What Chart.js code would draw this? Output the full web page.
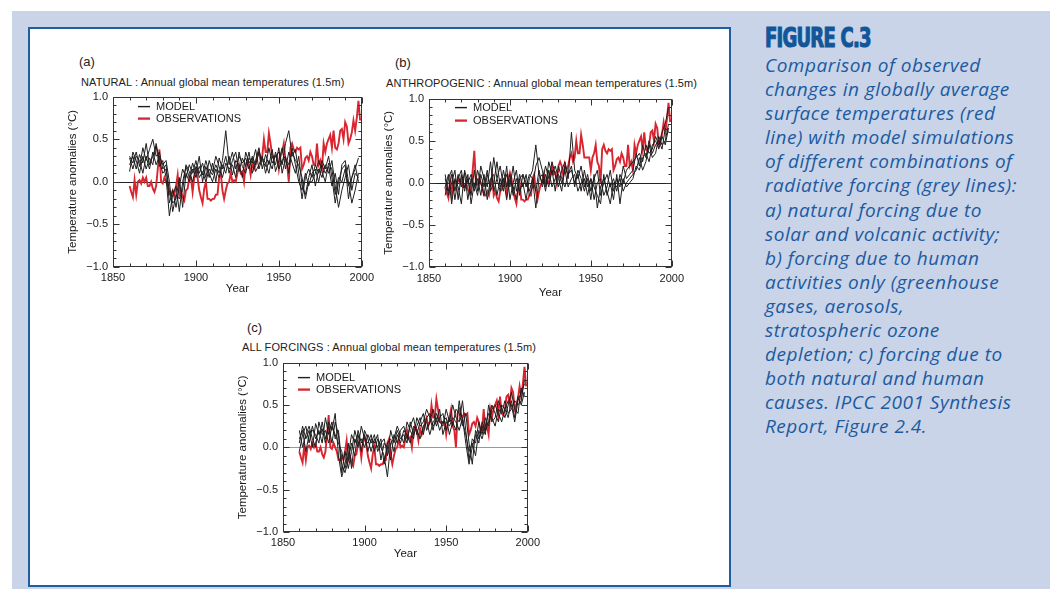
<!DOCTYPE html>
<html>
<head>
<meta charset="utf-8">
<script src="https://cdn.jsdelivr.net/npm/chart.js@4.4.1/dist/chart.umd.min.js"></script>
<style>
body{margin:0;width:1050px;height:590px;background:#fff;position:relative;overflow:hidden;font-family:"Liberation Sans",Arial,sans-serif;color:#222}
#panel{position:absolute;left:12px;top:11px;width:1038px;height:578px;background:#c9d4e8}
#box{position:absolute;left:28px;top:27px;width:699px;height:556px;border:2px solid #1f5fa0;background:#fff}
canvas{position:absolute}
.tag{position:absolute;font-size:13px;line-height:14px}
.sub{position:absolute;font-size:11px;line-height:12px;white-space:nowrap;letter-spacing:0.1px}
#fig{position:absolute;left:765px;top:24px;font-family:"DejaVu Sans Condensed","DejaVu Sans",sans-serif;font-weight:bold;font-size:26px;line-height:28px;color:#12569a;-webkit-text-stroke:1.1px #12569a;transform:scaleX(0.77);transform-origin:left top;letter-spacing:-1px;white-space:nowrap}
#cap{position:absolute;left:765px;top:53px;font-family:"Open Sans",Lato,sans-serif;font-style:italic;font-size:19px;line-height:24.1px;letter-spacing:0.5px;color:#1c5aa0;white-space:nowrap}
</style>
</head>
<body>
<div id="panel"></div>
<div id="box"></div>

<div class="tag" style="left:79px;top:55px">(a)</div>
<div class="sub" style="left:81px;top:76px">NATURAL : Annual global mean temperatures (1.5m)</div>
<div class="tag" style="left:395px;top:56px">(b)</div>
<div class="sub" style="left:386px;top:77px">ANTHROPOGENIC : Annual global mean temperatures (1.5m)</div>
<div class="tag" style="left:247px;top:321px">(c)</div>
<div class="sub" style="left:242px;top:341px">ALL FORCINGS : Annual global mean temperatures (1.5m)</div>

<canvas id="chartA" width="315" height="211" style="left:63px;top:85px"></canvas>
<canvas id="chartB" width="310" height="213" style="left:379px;top:87px"></canvas>
<canvas id="chartC" width="311" height="210" style="left:233px;top:351px"></canvas>

<div id="fig">FIGURE C.3</div>
<div id="cap">Comparison of observed<br>changes in globally average<br>surface temperatures (red<br>line) with model simulations<br>of different combinations of<br>radiative forcing (grey lines):<br>a) natural forcing due to<br>solar and volcanic activity;<br>b) forcing due to human<br>activities only (greenhouse<br>gases, aerosols,<br>stratospheric ozone<br>depletion; c) forcing due to<br>both natural and human<br>causes. IPCC 2001 Synthesis<br>Report, Figure 2.4.</div>

<script>
// tick labels
const xTickValues = [1850, 1900, 1950, 2000]
const xTickLabels = ['1850', '1900', '1950', '2000']
const yTickValues = [-1, -0.5, 0, 0.5, 1]
const yTickLabels = ['\u22121.0', '\u22120.5', '0.0', '0.5', '1.0']

// observed anomalies, one per year 1860-1999
const obsYears = [
1860,1861,1862,1863,1864,1865,1866,1867,1868,1869,
1870,1871,1872,1873,1874,1875,1876,1877,1878,1879,
1880,1881,1882,1883,1884,1885,1886,1887,1888,1889,
1890,1891,1892,1893,1894,1895,1896,1897,1898,1899,
1900,1901,1902,1903,1904,1905,1906,1907,1908,1909,
1910,1911,1912,1913,1914,1915,1916,1917,1918,1919,
1920,1921,1922,1923,1924,1925,1926,1927,1928,1929,
1930,1931,1932,1933,1934,1935,1936,1937,1938,1939,
1940,1941,1942,1943,1944,1945,1946,1947,1948,1949,
1950,1951,1952,1953,1954,1955,1956,1957,1958,1959,
1960,1961,1962,1963,1964,1965,1966,1967,1968,1969,
1970,1971,1972,1973,1974,1975,1976,1977,1978,1979,
1980,1981,1982,1983,1984,1985,1986,1987,1988,1989,
1990,1991,1992,1993,1994,1995,1996,1997,1998,1999]

const observed = [
-0.05,-0.12,-0.18,0.02,-0.15,0.00,0.02,-0.02,0.05,0.00,
0.05,-0.05,-0.05,0.00,-0.08,-0.12,-0.05,0.15,0.38,0.00,
-0.02,0.05,0.00,-0.05,-0.15,-0.15,-0.10,-0.15,-0.05,0.08,
-0.15,-0.10,-0.18,-0.22,-0.10,-0.08,0.05,0.05,-0.12,0.05,
0.12,0.05,-0.10,-0.18,-0.25,-0.08,0.00,-0.20,-0.20,-0.22,
-0.20,-0.20,-0.15,-0.15,0.05,0.10,-0.10,-0.20,-0.10,-0.02,
0.00,0.10,0.00,0.02,0.00,0.10,0.20,0.10,0.12,0.00,
0.20,0.25,0.20,0.08,0.22,0.15,0.20,0.30,0.35,0.25,
0.30,0.50,0.35,0.35,0.57,0.45,0.30,0.30,0.30,0.30,
0.15,0.30,0.35,0.45,0.25,0.20,0.00,0.40,0.45,0.38,
0.35,0.40,0.38,0.40,0.15,0.20,0.28,0.30,0.25,0.35,
0.30,0.20,0.20,0.45,0.20,0.25,0.15,0.45,0.35,0.45,
0.50,0.55,0.40,0.60,0.40,0.38,0.45,0.60,0.62,0.50,
0.70,0.65,0.45,0.50,0.58,0.72,0.60,0.75,0.95,0.72]

// model runs, every second year 1860-1998
const modelYears = [
1860,1862,1864,1866,1868,1870,1872,1874,1876,1878,
1880,1882,1884,1886,1888,1890,1892,1894,1896,1898,
1900,1902,1904,1906,1908,1910,1912,1914,1916,1918,
1920,1922,1924,1926,1928,1930,1932,1934,1936,1938,
1940,1942,1944,1946,1948,1950,1952,1954,1956,1958,
1960,1962,1964,1966,1968,1970,1972,1974,1976,1978,
1980,1982,1984,1986,1988,1990,1992,1994,1996,1998]

// (a) natural forcing
const natural1 = [
0.30,0.22,0.35,0.18,0.40, 0.25,0.38,0.50,0.30,0.35,
0.15,0.20,-0.25,-0.10,-0.30, -0.05,0.15,0.05,0.20,0.10,
0.25,0.05,0.12,0.00,0.15, 0.08,0.20,0.10,0.25,0.60,
0.20,0.35,0.15,0.30,0.22, 0.28,0.15,0.30,0.20,0.35,
0.25,0.18,0.40,0.22,0.30, 0.35,0.20,0.45,0.60,0.30,
0.38,0.10,-0.20,0.05,0.15, 0.05,0.20,0.10,0.25,0.15,
0.30,0.05,-0.25,0.00,0.15, 0.20,-0.20,0.05,0.15,0.28]
const natural2 = [
0.20,0.30,0.15,0.32,0.22, 0.45,0.20,0.30,0.42,0.18,
0.25,0.05,-0.40,-0.15,-0.05, -0.35,0.00,0.18,0.05,0.22,
0.10,0.30,0.00,0.18,0.05, 0.22,0.00,0.28,0.15,0.30,
0.10,0.25,0.35,0.12,0.28, 0.18,0.35,0.10,0.25,0.40,
0.15,0.32,0.20,0.38,0.12, 0.25,0.40,0.15,0.35,0.22,
0.10,0.30,-0.05,-0.15,0.05, 0.20,-0.05,0.15,0.05,0.20,
0.10,0.25,-0.05,-0.30,-0.10, 0.05,0.20,-0.10,0.10,0.05]
const natural3 = [
0.12,0.35,0.25,0.10,0.30, 0.15,0.28,0.20,0.45,0.25,
0.10,0.15,-0.10,-0.25,-0.20, 0.05,-0.30,0.10,0.00,0.15,
0.05,0.18,0.08,0.25,0.10, 0.00,0.15,0.05,0.20,0.10,
0.30,0.08,0.25,0.20,0.05, 0.35,0.22,0.28,0.12,0.20,
0.30,0.10,0.25,0.15,0.35, 0.15,0.25,0.30,0.10,0.40,
0.20,0.00,-0.10,0.10,-0.05, 0.10,0.15,0.00,0.20,0.10,
0.18,-0.05,0.10,-0.15,0.20, 0.25,0.00,-0.25,-0.10,0.10]
const natural4 = [
0.28,0.15,0.30,0.25,0.10, 0.30,0.15,0.35,0.20,0.30,
0.20,0.25,0.00,-0.35,-0.15, -0.20,-0.10,0.20,0.12,0.00,
0.18,0.10,0.22,0.05,0.25, 0.12,0.30,0.18,0.05,0.22,
0.15,0.20,0.05,0.35,0.18, 0.10,0.28,0.22,0.38,0.15,
0.28,0.22,0.10,0.30,0.20, 0.40,0.10,0.28,0.20,0.35,
0.25,0.20,0.05,-0.20,0.00, 0.00,0.10,0.25,0.12,0.00,
0.22,0.15,-0.15,0.05,0.00, 0.15,-0.05,0.05,0.20,0.00]

// (b) anthropogenic forcing
const anthro1 = [
-0.15,0.05,0.15,-0.10,0.10, -0.05,0.12,-0.20,0.05,-0.10,
0.15,0.00,-0.15,0.10,-0.05, 0.30,0.05,-0.10,0.15,-0.05,
0.10,-0.15,0.05,-0.10,0.00, -0.20,0.05,0.15,0.45,0.10,
0.00,0.20,0.05,0.25,0.10, -0.05,0.15,0.25,0.05,0.60,
0.15,0.05,0.20,-0.05,0.10, -0.10,0.05,0.15,-0.15,0.00,
0.10,-0.05,0.05,-0.10,0.10, 0.00,0.15,0.20,0.25,0.30,
0.35,0.25,0.45,0.35,0.40, 0.55,0.45,0.60,0.70,0.90]
const anthro2 = [
0.10,-0.15,0.00,0.15,-0.20, 0.10,-0.05,0.05,-0.15,0.15,
-0.10,0.20,0.05,-0.05,0.25, -0.10,0.05,0.20,-0.05,0.10,
-0.05,0.20,-0.10,0.10,-0.05, 0.10,-0.15,-0.05,0.20,0.30,
0.15,-0.05,0.25,0.10,0.20, 0.05,-0.10,0.20,0.10,0.15,
0.00,0.10,-0.10,0.15,-0.05, 0.05,-0.20,0.00,0.05,-0.15,
-0.05,0.15,-0.10,0.05,-0.05, 0.20,0.05,0.10,0.15,0.35,
0.20,0.45,0.30,0.50,0.35, 0.45,0.50,0.40,0.65,0.60]
const anthro3 = [
-0.05,0.10,-0.25,0.05,-0.05, -0.25,0.15,0.00,0.10,-0.05,
0.05,-0.15,0.10,-0.20,0.05, 0.10,-0.15,0.05,-0.10,0.20,
-0.20,0.00,0.15,-0.15,0.10, -0.05,0.10,0.05,-0.10,0.15,
-0.05,0.10,-0.05,0.15,-0.10, 0.20,0.05,-0.05,0.10,0.20,
-0.05,0.15,0.05,-0.10,0.05, -0.20,0.10,-0.30,-0.05,0.05,
-0.10,-0.25,0.00,-0.05,0.05, -0.10,0.00,0.05,0.10,0.15,
0.30,0.15,0.25,0.45,0.30, 0.35,0.55,0.45,0.50,0.70]
const anthro4 = [
0.05,-0.10,0.10,-0.20,0.05, 0.15,-0.10,0.10,-0.25,0.00,
-0.15,0.10,-0.05,0.15,-0.10, 0.00,0.25,-0.05,0.05,-0.20,
0.05,-0.05,-0.20,0.05,0.10, 0.00,-0.10,0.05,-0.30,0.05,
0.10,-0.10,0.15,-0.05,0.05, 0.10,0.00,0.15,-0.05,0.05,
0.10,-0.10,0.00,0.05,-0.15, 0.05,-0.05,-0.15,-0.25,0.10,
-0.15,0.00,-0.20,0.10,-0.25, 0.05,-0.05,0.00,0.05,0.20,
0.15,0.30,0.35,0.25,0.45, 0.50,0.40,0.55,0.45,0.65]

// (c) all forcings
const all1 = [
0.05,0.25,0.10,0.20,0.00, 0.28,0.15,0.22,0.05,0.30,
0.20,0.40,-0.10,-0.35,-0.20, 0.05,-0.25,0.10,0.00,0.25,
0.10,0.05,0.15,-0.05,0.10, 0.00,-0.10,-0.35,0.05,0.10,
0.25,0.15,0.05,0.30,0.20, 0.10,0.35,0.25,0.30,0.45,
0.35,0.20,0.40,0.30,0.25, 0.45,0.30,0.50,0.35,0.30,
0.55,0.20,-0.15,0.10,0.05, 0.30,0.15,0.35,0.25,0.45,
0.50,0.40,0.30,0.45,0.55, 0.50,0.30,0.55,0.65,0.75]
const all2 = [
-0.05,0.15,0.25,0.05,0.25, 0.10,0.20,0.05,0.35,0.15,
0.30,0.10,0.20,-0.20,-0.30, -0.15,0.05,-0.10,0.20,0.05,
0.15,-0.05,0.10,0.05,0.15, -0.15,0.05,0.00,-0.15,0.15,
0.05,0.20,0.25,0.10,0.25, 0.35,0.15,0.30,0.40,0.20,
0.30,0.45,0.25,0.35,0.40, 0.20,0.35,0.25,0.45,0.40,
0.25,0.40,0.05,-0.20,0.20, 0.10,0.25,0.15,0.50,0.30,
0.35,0.55,0.45,0.35,0.50, 0.65,0.45,0.40,0.70,0.60]
const all3 = [
0.20,0.00,0.15,0.25,0.10, 0.00,0.30,0.15,0.20,0.05,
0.25,0.15,0.05,-0.05,-0.25, -0.10,0.15,0.05,0.15,-0.05,
0.20,0.10,-0.05,0.10,0.00, 0.10,-0.20,0.05,0.10,-0.05,
0.15,0.05,0.20,0.15,0.05, 0.25,0.20,0.10,0.25,0.30,
0.15,0.30,0.35,0.20,0.30, 0.35,0.15,0.30,0.20,0.55,
0.30,0.15,-0.05,0.05,-0.10, 0.20,0.10,0.25,0.40,0.35,
0.25,0.45,0.40,0.55,0.40, 0.45,0.55,0.50,0.55,0.80]
const all4 = [
0.10,0.20,-0.05,0.15,0.20, 0.15,0.05,0.30,0.10,0.25,
0.05,0.30,0.15,-0.30,-0.05, -0.25,-0.05,0.20,0.05,0.10,
0.00,0.15,0.05,0.15,-0.05, 0.05,0.10,-0.10,0.20,0.05,
0.20,0.10,0.15,0.05,0.30, 0.15,0.25,0.35,0.15,0.35,
0.40,0.25,0.30,0.45,0.15, 0.30,0.25,0.35,0.30,0.20,
0.35,0.05,-0.20,0.00,0.15, 0.05,0.30,0.20,0.30,0.50,
0.40,0.30,0.50,0.45,0.35, 0.55,0.35,0.60,0.50,0.65]

Chart.defaults.font.family = '"Liberation Sans", Arial, sans-serif'
Chart.defaults.font.size = 11
Chart.defaults.color = '#1a1a1a'

/* frame, inward ticks, zero line and the small legend */
const framePlugin = {
  id: 'frame',
  beforeDatasetsDraw(chart, args, opts) {
    const {ctx, chartArea: a, scales: {y}} = chart
    const y0 = Math.round(y.getPixelForValue(0)) + 0.5
    ctx.save()
    ctx.strokeStyle = opts.zeroColor
    ctx.lineWidth = 1
    ctx.beginPath(); ctx.moveTo(a.left, y0); ctx.lineTo(a.right, y0); ctx.stroke()
    ctx.restore()
  },
  afterDatasetsDraw(chart, args, opts) {
    const {ctx, chartArea: a, scales: {x, y}} = chart
    ctx.save()
    ctx.strokeStyle = '#333'
    ctx.lineWidth = 1
    const L = Math.round(a.left) + 0.5, R = Math.round(a.right) - 0.5
    const T = Math.round(a.top) + 0.5, B = Math.round(a.bottom) - 0.5
    ctx.strokeRect(L, T, R - L, B - T)
    ctx.beginPath()
    for (let k = -10; k <= 10; k++) {
      const py = Math.round(y.getPixelForValue(k / 10)) + 0.5
      const len = k % 5 === 0 ? 6 : 3
      ctx.moveTo(L, py); ctx.lineTo(L + len, py)
      ctx.moveTo(R, py); ctx.lineTo(R - len, py)
    }
    for (let yr = 1850; yr <= 2000; yr += 10) {
      const px = Math.round(x.getPixelForValue(yr)) + 0.5
      const len = yr % 50 === 0 ? 6 : 3
      ctx.moveTo(px, B); ctx.lineTo(px, B - len)
      ctx.moveTo(px, T); ctx.lineTo(px, T + len)
    }
    ctx.stroke()

    // legend inside the plot
    const ds = chart.data.datasets
    const items = [ds[0], ds[ds.length - 1]]
    ctx.font = '11px "Liberation Sans", Arial, sans-serif'
    ctx.textBaseline = 'middle'
    items.forEach((d, i) => {
      const ly = a.top + opts.legendY + i * opts.legendGap
      ctx.strokeStyle = d.borderColor
      ctx.lineWidth = d.borderWidth + 0.4
      ctx.beginPath()
      ctx.moveTo(a.left + opts.legendX, ly)
      ctx.lineTo(a.left + opts.legendX + 12, ly)
      ctx.stroke()
      ctx.fillStyle = '#1a1a1a'
      ctx.fillText(d.label, a.left + opts.legendX + 18, ly)
    })
    ctx.restore()
  }
}

function makeChart(id, runs, cfg) {
  const datasets = runs.map(run => ({
    label: 'MODEL',
    data: modelYears.map((yr, i) => ({x: yr, y: run[i]})),
    borderColor: '#1e1e1e',
    borderWidth: 1,
    pointRadius: 0,
    tension: 0
  }))
  datasets.push({
    label: 'OBSERVATIONS',
    data: obsYears.map((yr, i) => ({x: yr, y: observed[i]})),
    borderColor: '#d9252f',
    borderWidth: 1.9,
    pointRadius: 0,
    tension: 0
  })

  new Chart(document.getElementById(id), {
    type: 'line',
    data: {datasets},
    plugins: [framePlugin],
    options: {
      responsive: false,
      animation: false,
      events: [],
      layout: {padding: {top: 8, right: 16, bottom: 0, left: 0}},
      plugins: {
        legend: {display: false},
        tooltip: {enabled: false},
        frame: cfg
      },
      scales: {
        x: {
          type: 'linear', min: 1850, max: 2000,
          grid: {display: false, drawTicks: false},
          border: {display: false},
          afterBuildTicks: s => { s.ticks = xTickValues.map(v => ({value: v})) },
          ticks: {padding: cfg.xPad, maxRotation: 0, autoSkip: false, callback: (v, i) => xTickLabels[i]},
          title: {display: true, text: 'Year', font: {size: 11.5}, padding: {top: 0, bottom: 0}},
          afterFit: s => { s.height = cfg.xH }
        },
        y: {
          min: -1, max: 1,
          grid: {display: false, drawTicks: false},
          border: {display: false},
          afterBuildTicks: s => { s.ticks = yTickValues.map(v => ({value: v})) },
          ticks: {padding: 5, autoSkip: false, callback: (v, i) => yTickLabels[i]},
          title: {display: true, text: 'Temperature anomalies (\u00b0C)', font: {size: 11.5}, padding: {top: 3, bottom: 0}},
          afterFit: s => { s.width = 50 }
        }
      }
    }
  })
}

makeChart('chartA', [natural1, natural2, natural3, natural4],
  {xPad: 4, xH: 29, zeroColor: '#222', legendX: 25, legendY: 10, legendGap: 12})
makeChart('chartB', [anthro1, anthro2, anthro3, anthro4],
  {xPad: 5, xH: 33, zeroColor: '#222', legendX: 26, legendY: 9, legendGap: 13})
makeChart('chartC', [all1, all2, all3, all4],
  {xPad: 4, xH: 29, zeroColor: '#999', legendX: 15, legendY: 15, legendGap: 12})
</script>
</body>
</html>
